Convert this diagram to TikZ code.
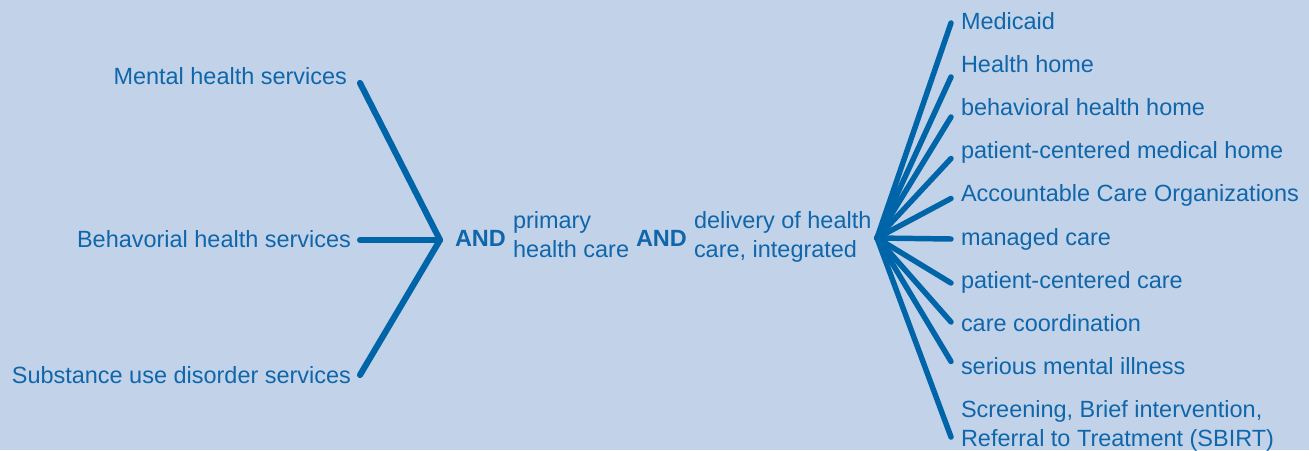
\documentclass[tikz,border=0pt]{standalone}
\usepackage{fontspec}
\setmainfont{Liberation Sans}
\definecolor{bgblue}{RGB}{194,211,233}
\definecolor{linkblue}{RGB}{0,101,168}
\definecolor{txtblue}{RGB}{16,102,170}
\begin{document}
\begin{tikzpicture}[x=0.75pt,y=-0.75pt,inner sep=0pt,outer sep=0pt,
lbl/.style={text=txtblue,font=\fontsize{17.6}{21.5}\selectfont},
andlbl/.style={text=txtblue,font=\fontsize{17.6}{21.5}\selectfont\bfseries},
spoke/.style={draw=linkblue,line width=4.6pt,line cap=round},
thinspoke/.style={draw=linkblue,line width=4.1pt,line cap=round}]
\fill[bgblue] (0,0) rectangle (1309,450);
% left fan
\coordinate (hubL) at (440,240);
\draw (347,84) node[lbl,anchor=base east] (mental) {Mental health services};
\draw (351,247) node[lbl,anchor=base east] (behav) {Behavorial health services};
\draw (351,383) node[lbl,anchor=base east] (subst) {Substance use disorder services};
\draw[spoke] ([shift={(13,-1)}]mental.base east) -- (hubL);
\draw[spoke] ([shift={(9,-7)}]behav.base east) -- (hubL);
\draw[spoke] ([shift={(9,-8)}]subst.base east) -- (hubL);
% middle terms
\draw (455,246.5) node[andlbl,anchor=base west] (and1) {AND};
\draw (513,257) node[lbl,anchor=base west,align=left] (prim) {primary\\health care};
\draw (636,246.5) node[andlbl,anchor=base west] (and2) {AND};
\draw (694,257) node[lbl,anchor=base west,align=left] (deliv) {delivery of health\\care, integrated};
% right fan
\coordinate (hubR) at (877,238);
\draw (961,29) node[lbl,anchor=base west] (t1) {Medicaid};
\draw (961,72) node[lbl,anchor=base west] (t2) {Health home};
\draw (961,115) node[lbl,anchor=base west] (t3) {behavioral health home};
\draw (961,158.5) node[lbl,anchor=base west] (t4) {patient-centered medical home};
\draw (961,201.5) node[lbl,anchor=base west] (t5) {Accountable Care Organizations};
\draw (961,245) node[lbl,anchor=base west] (t6) {managed care};
\draw (961,288) node[lbl,anchor=base west] (t7) {patient-centered care};
\draw (961,331) node[lbl,anchor=base west] (t8) {care coordination};
\draw (961,374.5) node[lbl,anchor=base west] (t9) {serious mental illness};
\draw (961,446) node[lbl,anchor=base west,align=left] (t10) {Screening, Brief intervention,\\Referral to Treatment (SBIRT)};
\draw[thinspoke] (hubR) -- ([shift={(-10,-6)}]t1.base west);
\draw[thinspoke] (hubR) -- ([shift={(-10,5)}]t2.base west);
\draw[thinspoke] (hubR) -- ([shift={(-10,2)}]t3.base west);
\draw[thinspoke] (hubR) -- ([shift={(-10,0)}]t4.base west);
\draw[thinspoke] (hubR) -- ([shift={(-10,-3)}]t5.base west);
\draw[thinspoke] (hubR) -- ([shift={(-10,-6)}]t6.base west);
\draw[thinspoke] (hubR) -- ([shift={(-10,-5)}]t7.base west);
\draw[thinspoke] (hubR) -- ([shift={(-10,-9)}]t8.base west);
\draw[thinspoke] (hubR) -- ([shift={(-10,-13)}]t9.base west);
\draw[thinspoke] (hubR) -- ([shift={(-10,-9)}]t10.base west);
\end{tikzpicture}
\end{document}
